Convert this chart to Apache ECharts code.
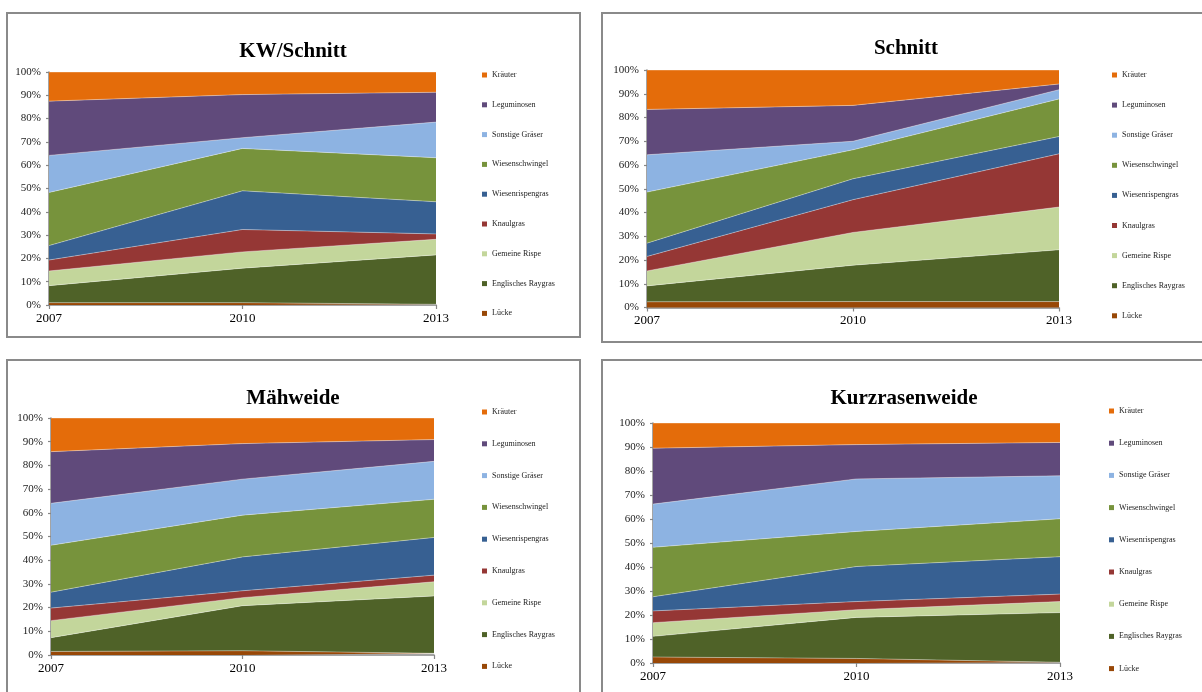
<!DOCTYPE html>
<html>
<head>
<meta charset="utf-8">
<title>Artenanteile 2007–2013</title>
<script src="https://cdn.jsdelivr.net/npm/echarts@6/dist/echarts.min.js"></script>
<style>
  html, body { margin: 0; padding: 0; background: #fff; }
  #chart { width: 1202px; height: 692px; }
</style>
</head>
<body>
<div id="chart"></div>
<script>
// Survey years on the x axis
const years = ['2007', '2010', '2013'];

// Species groups, bottom of the stack first
const species = ['Lücke', 'Englisches Raygras', 'Gemeine Rispe', 'Knaulgras',
  'Wiesenrispengras', 'Wiesenschwingel', 'Sonstige Gräser', 'Leguminosen', 'Kräuter'];

const speciesColors = ['#984807', '#4F6228', '#C3D69B', '#953735',
  '#376092', '#77933C', '#8DB3E2', '#604A7B', '#E46C0A'];

// Share (%) per species group, one row per species in the order above, columns = years
const kwSchnitt = [
  [1.0, 1.0, 0.3],
  [7.3, 14.8, 21.2],
  [6.3, 7.0, 6.7],
  [4.7, 9.6, 2.3],
  [6.2, 16.6, 13.8],
  [22.8, 18.2, 18.9],
  [15.9, 4.6, 15.3],
  [23.3, 18.5, 12.8],
  [12.5, 9.7, 8.7]
];

const schnitt = [
  [2.4, 2.5, 2.5],
  [6.7, 15.3, 21.8],
  [6.3, 13.8, 18.0],
  [6.1, 13.8, 22.4],
  [5.6, 8.8, 7.3],
  [21.5, 12.2, 15.8],
  [15.7, 3.6, 3.9],
  [19.1, 15.1, 2.4],
  [16.6, 14.9, 5.9]
];

const maehweide = [
  [1.5, 1.8, 0.7],
  [5.8, 19.0, 24.2],
  [7.2, 3.4, 6.0],
  [5.3, 2.9, 2.8],
  [6.7, 14.3, 15.9],
  [19.8, 17.6, 16.1],
  [17.7, 15.2, 16.0],
  [21.8, 15.0, 9.2],
  [14.2, 10.8, 9.1]
];

const kurzrasenweide = [
  [2.5, 1.9, 0.3],
  [8.6, 17.1, 20.7],
  [5.7, 3.2, 4.6],
  [4.9, 3.4, 3.1],
  [5.9, 14.6, 15.6],
  [20.6, 14.6, 15.8],
  [18.0, 21.9, 17.9],
  [23.3, 14.3, 13.9],
  [10.5, 9.0, 8.1]
];

const panelTitles = ['KW/Schnitt', 'Schnitt', 'Mähweide', 'Kurzrasenweide'];
const panelData = [kwSchnitt, schnitt, maehweide, kurzrasenweide];

// Layout of the four panels (pixels)
const layout = [
  { frame: [7, 13, 573, 324], grid: [49, 72, 387, 233], title: [293, 52], legend: [477, 65, 19.8] },
  { frame: [602, 13, 640, 329], grid: [647, 70, 412, 237.5], title: [906, 49], legend: [1107, 65, 20.1] },
  { frame: [7, 360, 573, 400], grid: [51, 418, 383, 237], title: [293, 399], legend: [477, 402, 21.8] },
  { frame: [602, 360, 640, 400], grid: [653, 423, 407, 240], title: [904, 399], legend: [1104, 401, 22.2] }
];

const serif = '"Liberation Serif", "Times New Roman", serif';
const axisGray = '#868686';

const grids = [], xAxes = [], yAxes = [], legends = [], series = [], graphics = [];

layout.forEach((p, i) => {
  graphics.push({
    type: 'rect',
    shape: { x: p.frame[0], y: p.frame[1], width: p.frame[2], height: p.frame[3] },
    style: { fill: null, stroke: '#8a8a8a', lineWidth: 2 },
    z: 0
  });
  graphics.push({
    type: 'text',
    x: p.title[0], y: p.title[1],
    style: {
      text: panelTitles[i], font: 'bold 21px ' + serif, fill: '#000',
      textAlign: 'center', textVerticalAlign: 'middle'
    },
    z: 10
  });

  grids.push({ left: p.grid[0], top: p.grid[1], width: p.grid[2], height: p.grid[3], containLabel: false });

  xAxes.push({
    type: 'category', gridIndex: i, data: years, boundaryGap: false,
    axisLine: { lineStyle: { color: axisGray, width: 1.5 } },
    axisTick: { length: 4, lineStyle: { color: axisGray, width: 1.2 } },
    axisLabel: { fontFamily: serif, fontSize: 13, color: '#000', margin: 7 },
    splitLine: { show: false }
  });

  yAxes.push({
    type: 'value', gridIndex: i, min: 0, max: 100, interval: 10,
    axisLine: { show: true, lineStyle: { color: axisGray, width: 1.5 } },
    axisTick: { show: true, length: 3, lineStyle: { color: axisGray, width: 1.2 } },
    axisLabel: { formatter: '{value}%', fontFamily: serif, fontSize: 11, color: '#222', margin: 8 },
    splitLine: { show: false }
  });

  legends.push({
    orient: 'vertical', left: p.legend[0], top: p.legend[1], itemGap: p.legend[2],
    itemWidth: 5, itemHeight: 5, icon: 'rect',
    data: species.slice().reverse(),
    textStyle: { fontFamily: serif, fontSize: 8, color: '#222', lineHeight: 10 },
    selectedMode: false
  });

  species.forEach((name, s) => {
    series.push({
      name: name, type: 'line', stack: 'panel' + i,
      xAxisIndex: i, yAxisIndex: i,
      data: panelData[i][s],
      showSymbol: false, symbol: 'none',
      lineStyle: { width: 0.8, color: 'rgba(255,255,255,0.45)' },
      areaStyle: { color: speciesColors[s], opacity: 1 },
      itemStyle: { color: speciesColors[s] },
      emphasis: { disabled: true },
      animation: false
    });
  });
});

const chart = echarts.init(document.getElementById('chart'), null, { renderer: 'canvas' });
chart.setOption({
  backgroundColor: '#fff',
  animation: false,
  graphic: graphics,
  grid: grids,
  xAxis: xAxes,
  yAxis: yAxes,
  legend: legends,
  series: series
});
</script>
</body>
</html>
